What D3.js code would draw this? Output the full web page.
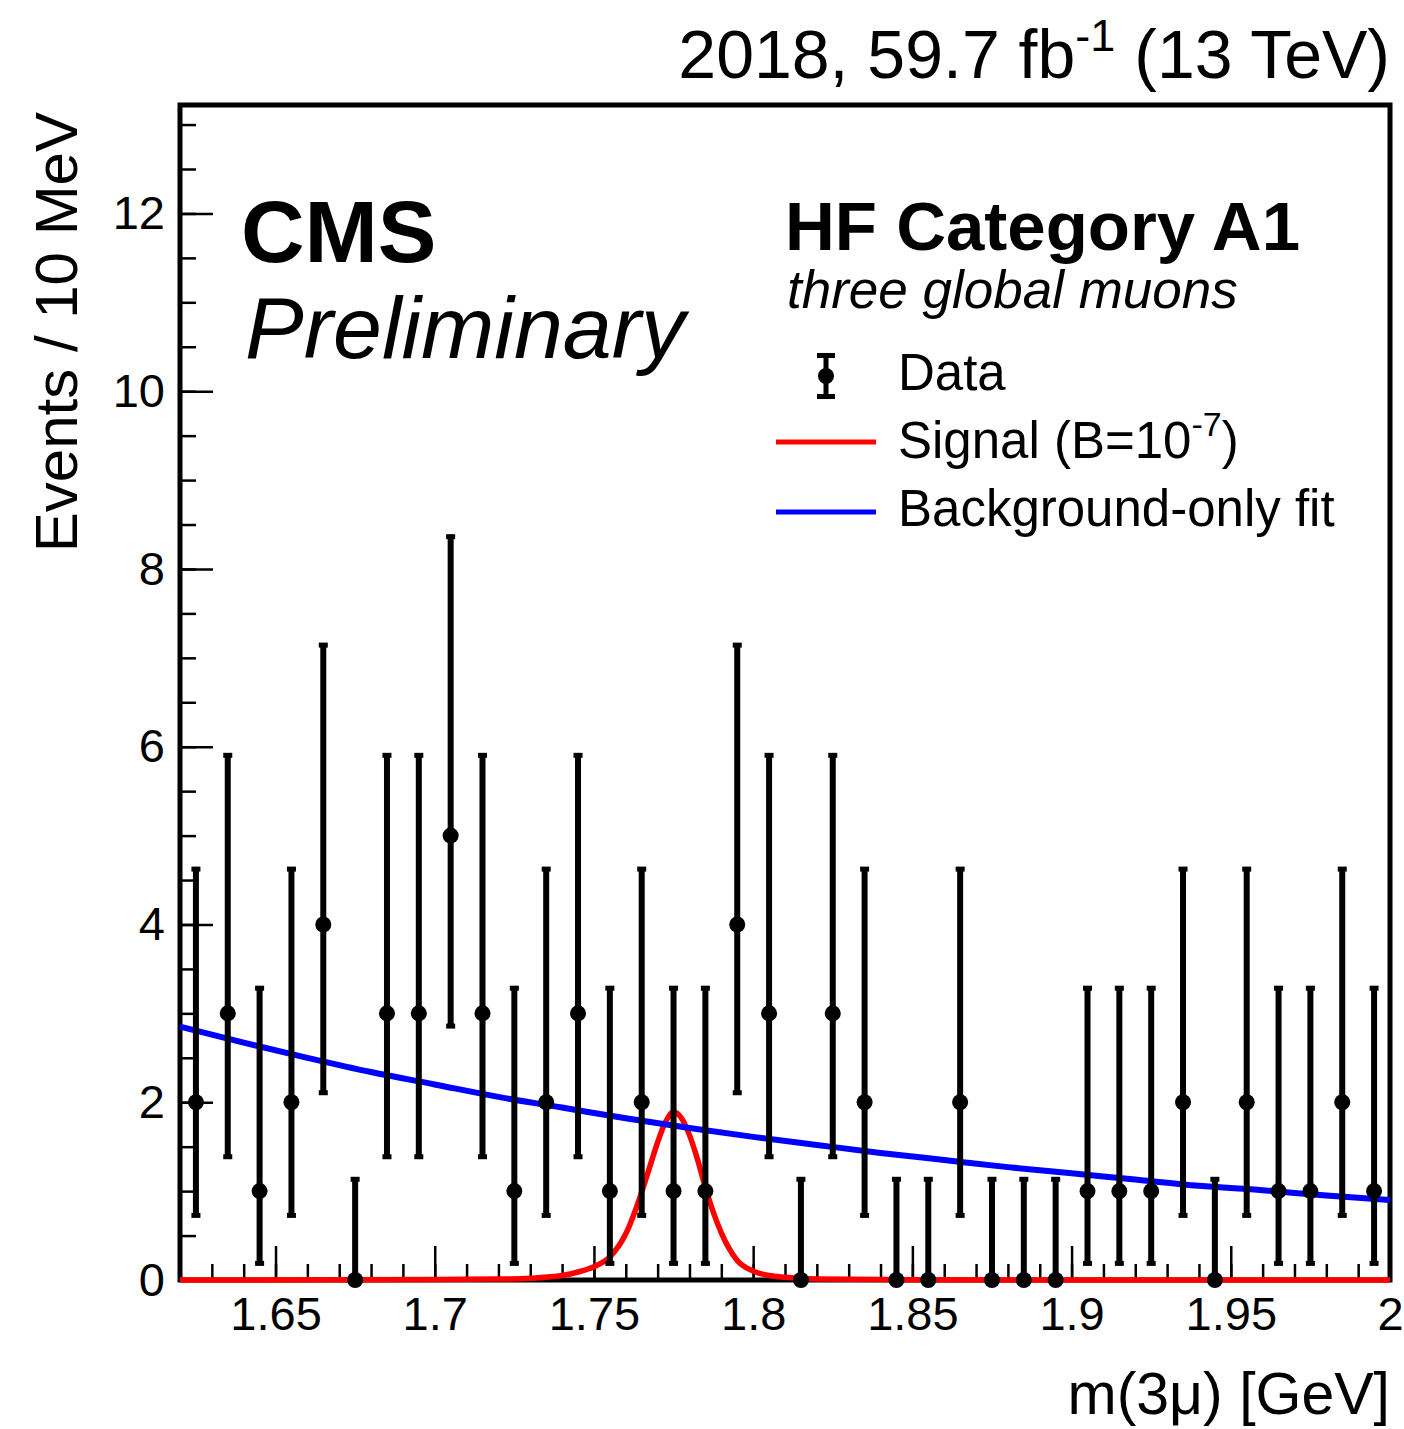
<!DOCTYPE html>
<html>
<head>
<meta charset="utf-8">
<script src="https://cdn.jsdelivr.net/npm/d3@7"></script>
<style>
  body { margin: 0; background: #fff; }
  text { font-family: "Liberation Sans", Arial, Helvetica, sans-serif; fill: #000; }
</style>
</head>
<body>
<div id="chart"></div>
<script>
// bin centres of m(3mu) [GeV], 10 MeV bins
var binCenters = [1.625, 1.635, 1.645, 1.655, 1.665, 1.675, 1.685, 1.695, 1.705, 1.715,
                  1.725, 1.735, 1.745, 1.755, 1.765, 1.775, 1.785, 1.795, 1.805, 1.815,
                  1.825, 1.835, 1.845, 1.855, 1.865, 1.875, 1.885, 1.895, 1.905, 1.915,
                  1.925, 1.935, 1.945, 1.955, 1.965, 1.975, 1.985, 1.995];
var counts     = [2, 3, 1, 2, 4, 0, 3, 3, 5, 3,
                  1, 2, 3, 1, 2, 1, 1, 4, 3, 0,
                  3, 2, 0, 0, 2, 0, 0, 0, 1, 1,
                  1, 2, 0, 2, 1, 1, 2, 1];
// error bar ends
var errLow     = [0.71, 1.37, 0.17, 0.71, 2.09, 0, 1.37, 1.37, 2.84, 1.37,
                  0.17, 0.71, 1.37, 0.17, 0.71, 0.17, 0.17, 2.09, 1.37, 0,
                  1.37, 0.71, 0, 0, 0.71, 0, 0, 0, 0.17, 0.17,
                  0.17, 0.71, 0, 0.71, 0.17, 0.17, 0.71, 0.17];
var errHigh    = [4.64, 5.92, 3.30, 4.64, 7.16, 1.15, 5.92, 5.92, 8.38, 5.92,
                  3.30, 4.64, 5.92, 3.30, 4.64, 3.30, 3.30, 7.16, 5.92, 1.15,
                  5.92, 4.64, 1.15, 1.15, 4.64, 1.15, 1.15, 1.15, 3.30, 3.30,
                  3.30, 4.64, 1.15, 4.64, 3.30, 3.30, 4.64, 3.30];

// background-only fit curve
var bkgMass  = [1.62, 1.64, 1.66, 1.68, 1.70, 1.72, 1.74, 1.76, 1.78, 1.80,
                1.82, 1.84, 1.86, 1.88, 1.90, 1.92, 1.94, 1.96, 1.98, 2.00];
var bkgValue = [2.85, 2.67, 2.50, 2.34, 2.20, 2.06, 1.94, 1.82, 1.71, 1.61,
                1.52, 1.43, 1.35, 1.27, 1.20, 1.13, 1.06, 1.01, 0.95, 0.90];

// signal shape (B = 1e-7)
var sigMass  = [1.62, 1.70, 1.72, 1.73, 1.74, 1.745, 1.75, 1.755, 1.76, 1.765,
                1.7675, 1.77, 1.7725, 1.775, 1.7775, 1.78, 1.7825, 1.785, 1.7875, 1.79,
                1.795, 1.80, 1.805, 1.81, 1.82, 1.85, 2.00];
var sigValue = [0.0, 0.005, 0.01, 0.02, 0.05, 0.09, 0.15, 0.26, 0.52, 0.99,
                1.27, 1.55, 1.78, 1.89, 1.82, 1.63, 1.36, 1.04, 0.76, 0.53,
                0.22, 0.10, 0.05, 0.03, 0.01, 0.002, 0.0];

var xMajorTicks = [1.65, 1.7, 1.75, 1.8, 1.85, 1.9, 1.95, 2.0];
var yMajorTicks = [0, 2, 4, 6, 8, 10, 12];

var svgWidth = 1404;
var svgHeight = 1429;
var margin = { top: 105, right: 14, bottom: 149, left: 180 };
var width = svgWidth - margin.left - margin.right;
var height = svgHeight - margin.top - margin.bottom;

var svg = d3.select("#chart").append("svg")
  .attr("width", svgWidth)
  .attr("height", svgHeight);

var chartGroup = svg.append("g")
  .attr("transform", `translate(${margin.left}, ${margin.top})`);

var xScale = d3.scaleLinear().domain([1.62, 2.0]).range([0, width]);
var yScale = d3.scaleLinear().domain([0, 13.22]).range([height, 0]);

// minor ticks
var xMinor = d3.range(1.62, 2.0001, 0.01);
var yMinor = d3.range(0, 13.01, 0.5);

chartGroup.append("g")
  .attr("transform", `translate(0, ${height})`)
  .call(d3.axisBottom(xScale).tickValues(xMinor).tickSize(-16).tickFormat(""))
  .call(g => g.select(".domain").remove())
  .selectAll("line").attr("stroke-width", 2.5);

chartGroup.append("g")
  .call(d3.axisLeft(yScale).tickValues(yMinor).tickSize(-16).tickFormat(""))
  .call(g => g.select(".domain").remove())
  .selectAll("line").attr("stroke-width", 2.5);

// major ticks + labels
var xAxis = chartGroup.append("g")
  .attr("transform", `translate(0, ${height})`)
  .call(d3.axisBottom(xScale).tickValues(xMajorTicks).tickSize(-34).tickPadding(17)
    .tickFormat(d => String(+d.toFixed(2))))
  .call(g => g.select(".domain").remove());
xAxis.selectAll("line").attr("stroke-width", 2.5);
xAxis.selectAll("text").attr("font-size", 47).style("font-family", "'Liberation Sans', Arial, sans-serif");

var yAxis = chartGroup.append("g")
  .call(d3.axisLeft(yScale).tickValues(yMajorTicks).tickSize(-33).tickPadding(15))
  .call(g => g.select(".domain").remove());
yAxis.selectAll("line").attr("stroke-width", 2.5);
yAxis.selectAll("text").attr("font-size", 47).style("font-family", "'Liberation Sans', Arial, sans-serif");

// curves
var sigLine = d3.line()
  .x((d, i) => xScale(sigMass[i]))
  .y(d => yScale(d))
  .curve(d3.curveMonotoneX);

var bkgLine = d3.line()
  .x((d, i) => xScale(bkgMass[i]))
  .y(d => yScale(d))
  .curve(d3.curveMonotoneX);

// frame
chartGroup.append("rect")
  .attr("x", 0).attr("y", 0)
  .attr("width", width).attr("height", height)
  .attr("fill", "none")
  .attr("stroke", "#000")
  .attr("stroke-width", 5);

chartGroup.append("path")
  .datum(sigValue)
  .attr("d", sigLine)
  .attr("fill", "none")
  .attr("stroke", "#ff0000")
  .attr("stroke-width", 5.5);

chartGroup.append("path")
  .datum(bkgValue)
  .attr("d", bkgLine)
  .attr("fill", "none")
  .attr("stroke", "#0000ff")
  .attr("stroke-width", 6);

// data points with error bars (bound to bin index)
var pts = chartGroup.selectAll(".pt")
  .data(d3.range(counts.length))
  .enter()
  .append("g")
  .classed("pt", true)
  .attr("transform", i => `translate(${xScale(binCenters[i])}, 0)`);

pts.append("line")
  .attr("y1", i => yScale(errLow[i]))
  .attr("y2", i => yScale(errHigh[i]))
  .attr("stroke", "#000")
  .attr("stroke-width", 6);

// end caps
pts.append("rect")
  .attr("x", -4.5).attr("width", 9)
  .attr("y", i => yScale(errHigh[i]) - 1).attr("height", 5);
pts.filter(i => errLow[i] > 0).append("rect")
  .attr("x", -4.5).attr("width", 9)
  .attr("y", i => yScale(errLow[i]) - 4).attr("height", 5);

pts.append("circle")
  .attr("cy", i => yScale(counts[i]))
  .attr("r", 8)
  .attr("fill", "#000");

// header text
var lumiText = svg.append("text")
  .attr("x", 1390).attr("y", 78)
  .attr("text-anchor", "end")
  .attr("font-size", 68);
lumiText.append("tspan").text("2018, 59.7 fb");
lumiText.append("tspan").attr("dy", -27).attr("font-size", 45).text("-1");
lumiText.append("tspan").attr("dy", 27).text(" (13 TeV)");

svg.append("text")
  .attr("x", 241).attr("y", 262)
  .attr("font-size", 88).attr("font-weight", "bold")
  .text("CMS");

svg.append("text")
  .attr("x", 245).attr("y", 358)
  .attr("font-size", 88).attr("font-style", "italic")
  .text("Preliminary");

svg.append("text")
  .attr("x", 785).attr("y", 250)
  .attr("font-size", 69).attr("font-weight", "bold")
  .text("HF Category A1");

svg.append("text")
  .attr("x", 787).attr("y", 308)
  .attr("font-size", 53).attr("font-style", "italic")
  .text("three global muons");

// legend
var legend = svg.append("g");
var legX = 826;

legend.append("line")
  .attr("x1", legX).attr("x2", legX)
  .attr("y1", 355).attr("y2", 397)
  .attr("stroke", "#000").attr("stroke-width", 5);
legend.append("rect").attr("x", legX - 9).attr("y", 353).attr("width", 18).attr("height", 5);
legend.append("rect").attr("x", legX - 9).attr("y", 394).attr("width", 18).attr("height", 5);
legend.append("circle").attr("cx", legX).attr("cy", 376).attr("r", 8);
legend.append("text").attr("x", 898).attr("y", 390).attr("font-size", 51).text("Data");

legend.append("line")
  .attr("x1", 776).attr("x2", 876).attr("y1", 442).attr("y2", 442)
  .attr("stroke", "#ff0000").attr("stroke-width", 5);
var sigText = legend.append("text").attr("x", 898).attr("y", 458).attr("font-size", 51);
sigText.append("tspan").text("Signal (B=10");
sigText.append("tspan").attr("dy", -22).attr("font-size", 34).text("-7");
sigText.append("tspan").attr("dy", 22).text(")");

legend.append("line")
  .attr("x1", 776).attr("x2", 876).attr("y1", 512).attr("y2", 512)
  .attr("stroke", "#0000ff").attr("stroke-width", 5);
legend.append("text").attr("x", 898).attr("y", 526).attr("font-size", 51).text("Background-only fit");

// axis titles
svg.append("text")
  .attr("transform", "translate(77, 112) rotate(-90)")
  .attr("text-anchor", "end")
  .attr("font-size", 60)
  .text("Events / 10 MeV");

svg.append("text")
  .attr("x", 1390).attr("y", 1414)
  .attr("text-anchor", "end")
  .attr("font-size", 59)
  .text("m(3\u03bc) [GeV]");
</script>
</body>
</html>
